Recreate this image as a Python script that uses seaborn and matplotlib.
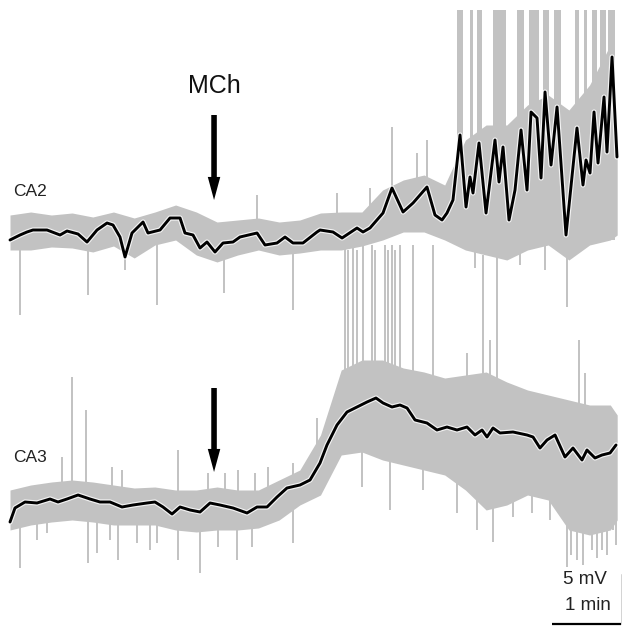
import numpy as np
import pandas as pd
import matplotlib
matplotlib.use("Agg")
import matplotlib.pyplot as plt
import matplotlib.patheffects as pe
import seaborn as sns

# ---------------- data (time: min, voltage: mV relative to each trace baseline) -------------
ca2_t = [0.000, 0.145, 0.246, 0.333, 0.536, 0.725, 0.826, 0.986, 1.116, 1.261,
         1.406, 1.493, 1.594, 1.667, 1.768, 1.928, 2.000, 2.174, 2.319, 2.464,
         2.536, 2.652, 2.754, 2.855, 2.971, 3.087, 3.232, 3.333, 3.580, 3.696,
         3.870, 3.986, 4.101, 4.246, 4.449, 4.493, 4.681, 4.812, 5.029, 5.116,
         5.217, 5.406, 5.536, 5.696, 5.841, 6.043, 6.159, 6.261, 6.333, 6.420,
         6.522, 6.609, 6.667, 6.710, 6.797, 6.899, 7.029, 7.087, 7.145, 7.232,
         7.319, 7.406, 7.493, 7.551, 7.638, 7.696, 7.754, 7.841, 7.928, 8.058,
         8.217, 8.304, 8.348, 8.406, 8.464, 8.522, 8.609, 8.652, 8.725, 8.797]
ca2_v = [0.0, 0.5, 0.8, 1.0, 1.0, 0.5, 0.9, 0.6, -0.2, 1.0,
         1.7, 1.5, 0.3, -1.7, 0.7, 1.8, 0.7, 1.0, 2.2, 2.2,
         0.7, 0.5, -0.8, -0.2, -1.2, -0.3, -0.2, 0.3, 0.7, -0.5,
         -0.3, 0.3, -0.3, -0.3, 0.8, 1.0, 0.8, 0.2, 1.2, 0.8,
         1.2, 2.7, 5.2, 2.8, 3.7, 5.3, 2.5, 2.0, 2.7, 4.0,
         10.5, 3.3, 6.3, 4.7, 9.7, 2.7, 10.0, 5.8, 9.3, 2.0,
         5.0, 11.0, 5.0, 12.8, 12.2, 6.2, 14.8, 7.5, 13.3, 0.5,
         11.2, 5.5, 8.0, 6.7, 12.8, 7.7, 14.3, 8.8, 18.3, 8.3]

ca3_t = [0.000, 0.072, 0.217, 0.391, 0.580, 0.696, 0.826, 0.986, 1.159, 1.304,
         1.449, 1.623, 1.783, 1.986, 2.101, 2.217, 2.348, 2.464, 2.609, 2.754,
         2.899, 3.043, 3.232, 3.435, 3.580, 3.725, 3.870, 4.014, 4.203, 4.348,
         4.493, 4.594, 4.739, 4.884, 5.029, 5.174, 5.304, 5.406, 5.536, 5.652,
         5.754, 5.870, 6.043, 6.188, 6.333, 6.478, 6.623, 6.739, 6.841, 6.913,
         7.000, 7.101, 7.290, 7.493, 7.580, 7.681, 7.783, 7.899, 8.043, 8.159,
         8.290, 8.362, 8.478, 8.580, 8.696, 8.783]
ca3_v = [-1.2, 0.2, 0.8, 0.7, 1.1, 0.8, 1.1, 1.5, 1.1, 0.8,
         0.8, 0.3, 0.5, 0.7, 0.8, 0.3, -0.4, 0.3, 0.0, -0.2,
         0.7, 0.5, 0.2, -0.3, 0.3, 0.3, 1.3, 2.2, 2.5, 3.0,
         4.7, 6.5, 8.5, 9.8, 10.3, 10.8, 11.2, 10.7, 10.3, 10.5,
         10.2, 9.0, 8.7, 8.0, 8.3, 8.0, 8.3, 7.5, 8.0, 7.3,
         8.2, 7.7, 7.8, 7.5, 7.3, 6.2, 7.0, 7.5, 5.3, 6.2,
         5.0, 6.0, 5.2, 5.5, 5.7, 6.5]

# raw-signal envelope (grey band)
env_t = [0.0, 0.3, 0.6, 0.9, 1.2, 1.5, 1.8, 2.1, 2.4, 2.7,
         3.0, 3.3, 3.6, 3.9, 4.2, 4.5, 4.8, 5.1, 5.4, 5.7,
         6.0, 6.3, 6.6, 6.9, 7.2, 7.5, 7.8, 8.1, 8.4, 8.7, 8.8]
ca2_upper = [2.5, 2.8, 2.5, 2.7, 2.3, 2.8, 2.2, 2.8, 3.5, 2.8,
             1.8, 2.0, 2.2, 1.8, 2.0, 2.7, 2.8, 2.8, 5.0, 6.0,
             6.5, 5.5, 10.0, 11.5, 11.5, 13.5, 14.5, 13.0, 15.5, 19.5, 10.0]
ca2_lower = [-1.0, -1.0, -0.7, -0.8, -1.2, -0.6, -1.8, -0.5, 0.0, -1.5,
             -2.2, -1.5, -1.0, -1.5, -1.3, -1.0, -1.0, -0.6, 0.0, 0.8,
             0.8, 0.0, -1.0, -1.5, -2.0, -1.0, -0.5, -2.0, -0.5, 0.0, 0.5]
ca3_upper = [2.0, 2.5, 2.8, 3.0, 2.8, 2.5, 2.2, 2.3, 2.0, 2.0,
             2.3, 2.0, 2.0, 3.0, 4.0, 7.5, 14.0, 15.0, 15.0, 14.2,
             13.8, 13.2, 13.5, 13.8, 12.8, 12.0, 11.5, 11.0, 10.5, 10.5, 9.5]
ca3_lower = [-2.0, -1.5, -1.2, -1.0, -1.2, -1.5, -1.5, -1.5, -2.0, -2.2,
             -2.0, -2.0, -1.8, -1.0, 0.5, 1.5, 5.5, 5.8, 5.0, 4.5,
             4.0, 3.5, 2.0, 0.0, 0.5, 1.5, 1.0, -2.0, -2.5, -2.0, -1.0]

# isolated spikes (time, tip voltage)
ca2_spike_t = [0.145, 1.130, 1.667, 2.130, 3.101, 4.101, 6.739, 7.391, 7.754, 8.072,
               3.580, 4.739, 5.217, 5.536, 5.899, 6.043]
ca2_spike_tip = [-7.5, -5.5, -3.0, -6.5, -5.3, -7.0, -2.8, -2.5, -3.0, -6.7,
                 4.5, 4.7, 5.2, 11.3, 8.7, 10.0]
ca3_spike_t = [0.145, 0.391, 0.536, 1.130, 1.261, 1.449, 1.565, 1.841, 2.029, 2.130,
               2.435, 2.754, 3.014, 3.290, 3.507, 4.101, 5.101, 5.507, 5.986, 6.478,
               6.768, 7.000, 7.290, 7.565, 7.826, 8.072, 8.217, 8.435, 8.580, 8.739,
               8.130, 8.300, 8.500, 8.650, 8.780,
               0.754, 0.899, 1.101, 1.478, 1.623, 2.435, 2.870, 3.116, 3.304, 3.551,
               3.739, 4.101, 4.449, 6.623, 6.957, 8.246, 8.333,
               4.855, 4.899, 4.971, 5.029, 5.116, 5.246, 5.290, 5.435, 5.478, 5.536,
               5.580, 5.652, 5.841, 6.130, 6.855, 7.058]
ca3_spike_tip = [-5.8, -3.0, -2.3, -5.3, -4.3, -3.0, -5.0, -3.3, -4.0, -3.3,
                 -5.0, -6.3, -3.7, -5.0, -3.7, -3.3, 2.3, 0.0, 2.0, -0.3,
                 -2.0, -3.2, -0.7, -0.3, -1.0, -5.7, -5.0, -4.0, -4.0, -2.0,
                 -4.5, -5.5, -4.8, -4.5, -3.5,
                 5.3, 13.3, 10.0, 4.3, 4.0, 6.0, 3.7, 3.7, 4.0, 3.7,
                 4.3, 4.7, 9.2, 15.7, 17.0, 17.0, 13.7,
                 26.5, 26.0, 26.5, 26.0, 26.5, 26.5, 26.0, 26.5, 26.0, 26.5,
                 26.0, 26.5, 26.5, 26.5, 25.5, 25.5]

# CA2 burst discharges (clipped at top of panel)
ca2_burst_start = [6.478, 6.667, 6.768, 7.000, 7.348, 7.522, 7.725, 7.884, 8.188,
                   8.319, 8.435, 8.551, 8.667]
ca2_burst_end = [6.565, 6.710, 6.841, 7.188, 7.449, 7.667, 7.812, 7.986, 8.246,
                 8.362, 8.507, 8.638, 8.768]
ca2_burst_top = 23.0

mch_onset = 2.957          # min
scale_t0 = 7.855           # min, start of scale bar
labels = {"stim": "MCh", "ca2": "CA2", "ca3": "CA3", "mv": "5 mV", "min": "1 min"}

# ---------------- layout ----------------
CA2_OFF = -24.0
CA3_OFF = -51.0
GREY = "#c2c2c2"

sns.set_theme(style="white")
plt.rcParams["font.family"] = ["Liberation Sans", "DejaVu Sans"]

fig = plt.figure(figsize=(6.23, 6.26), dpi=100)
ax = fig.add_axes([0, 0, 1, 1])

traces = [
    (ca2_t, ca2_v, ca2_upper, ca2_lower, ca2_spike_t, ca2_spike_tip, CA2_OFF),
    (ca3_t, ca3_v, ca3_upper, ca3_lower, ca3_spike_t, ca3_spike_tip, CA3_OFF),
]

for tt, vv, up, lo, st, sv, off in traces:
    ax.fill_between(env_t, np.array(lo) + off, np.array(up) + off, color=GREY, lw=0, zorder=1)
    base = np.interp(st, tt, vv)
    ax.vlines(st, base + off, np.array(sv) + off, color=GREY, lw=1.4, zorder=1)

# bursts
bs = np.array(ca2_burst_start)
be = np.array(ca2_burst_end)
ax.bar(bs, ca2_burst_top, width=be - bs, bottom=CA2_OFF, align="edge", color=GREY, lw=0, zorder=1)

# averaged black traces
df = pd.concat([
    pd.DataFrame({"t": ca2_t, "y": np.array(ca2_v) + CA2_OFF, "trace": "CA2"}),
    pd.DataFrame({"t": ca3_t, "y": np.array(ca3_v) + CA3_OFF, "trace": "CA3"}),
])
sns.lineplot(data=df, x="t", y="y", units="trace", estimator=None, sort=False,
             color="black", lw=2.1, ax=ax, zorder=3, legend=False)
for ln in ax.lines:
    ln.set_path_effects([pe.Stroke(linewidth=3.8, foreground="white", alpha=0.8), pe.Normal()])
    ln.set_solid_joinstyle("round")
ax.set_xlim(-0.145, 8.884)
ax.set_ylim(-62.6, 0)
ax.axis("off")

# arrows
arrow_style = "simple,head_length=0.83,head_width=0.45,tail_width=0.2"
for off, tip, tail in [(CA2_OFF, 4.0, 12.5), (CA3_OFF, 3.8, 12.2)]:
    ax.annotate("", xy=(mch_onset, off + tip), xytext=(mch_onset, off + tail),
                arrowprops=dict(arrowstyle=arrow_style, color="black", lw=0,
                                mutation_scale=20, shrinkA=0, shrinkB=0), zorder=4)

ax.text(mch_onset, CA2_OFF + 15.4, labels["stim"], ha="center", va="center",
        fontsize=18, color="#111111")
ax.text(0.043, CA2_OFF + 4.8, labels["ca2"], ha="left", va="center", fontsize=12.5, color="#222222")
ax.text(0.043, CA3_OFF + 5.2, labels["ca3"], ha="left", va="center", fontsize=12.5, color="#222222")

# scale bar
ax.plot([scale_t0, scale_t0 + 1.0], [-62.4, -62.4], color="black", lw=1.6, solid_capstyle="butt")
ax.plot([scale_t0 + 1.0, scale_t0 + 1.0], [-62.4, -62.4 + 5.0], color="#cccccc", lw=0.6)
ax.text(scale_t0 + 0.48, -58.0, labels["mv"], ha="center", va="center", fontsize=13.5, color="#222222")
ax.text(scale_t0 + 0.52, -60.6, labels["min"], ha="center", va="center", fontsize=13.5, color="#222222")

fig.savefig("out.png", dpi=100)
